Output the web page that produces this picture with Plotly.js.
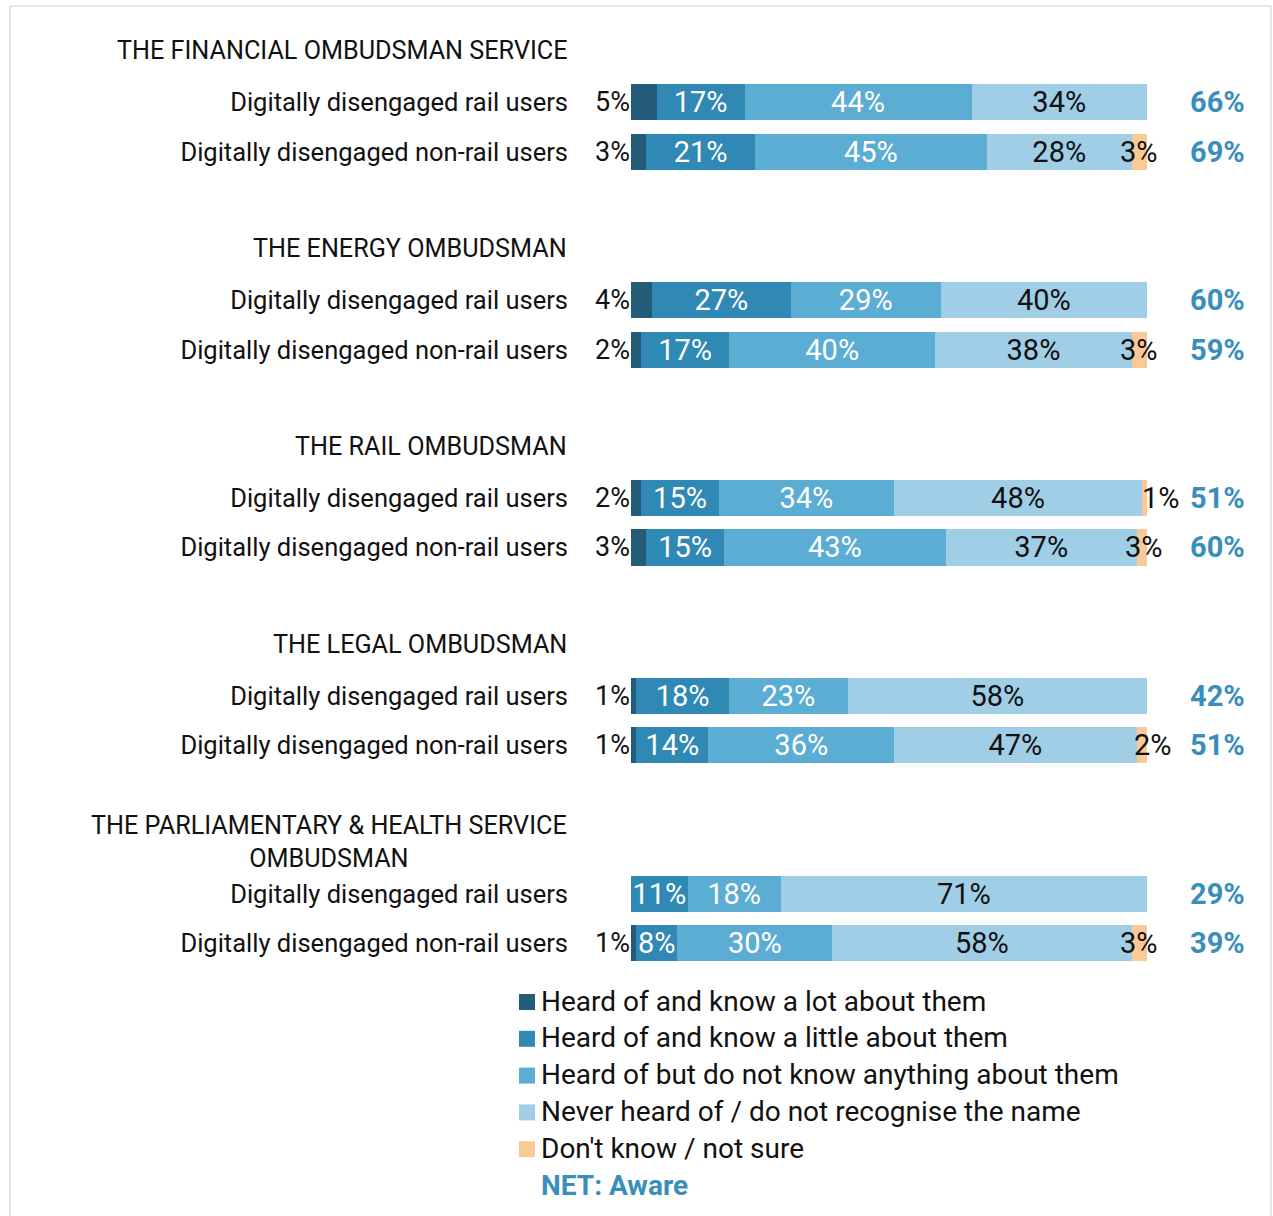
<!DOCTYPE html>
<html><head><meta charset="utf-8">
<script src="https://cdn.plot.ly/plotly-3.0.1.min.js"></script>
<style>html,body{margin:0;padding:0;background:#fff}#chart{width:1273px;height:1216px}</style>
</head><body><div id="chart"></div>
<script>
const groups = ['THE FINANCIAL OMBUDSMAN SERVICE','THE ENERGY OMBUDSMAN','THE RAIL OMBUDSMAN','THE LEGAL OMBUDSMAN','THE PARLIAMENTARY &amp; HEALTH SERVICE<br>OMBUDSMAN'];
const rowLabels = ['Digitally disengaged rail users','Digitally disengaged non-rail users'];
const seriesNames = ['Heard of and know a lot about them','Heard of and know a little about them','Heard of but do not know anything about them','Never heard of / do not recognise the name',"Don't know / not sure"];
const knowALot    = [5, 3, 4, 2, 2, 3, 1, 1, 0, 1];
const knowALittle = [17,21,27,17,15,15,18,14,11, 8];
const heardNothing= [44,45,29,40,34,43,23,36,18,30];
const neverHeard  = [34,28,40,38,48,37,58,47,71,58];
const dontKnow    = [0, 3, 0, 3, 1, 3, 0, 2, 0, 3];
const netAware    = [66,69,60,59,51,60,42,51,29,39];
const netLabel = 'NET: Aware';

const colors = ['#235b78','#2f89b4','#5badd4','#a0cee6','#f9ca98'];
const netColor = '#3a8ebb';
const FONT = 'Roboto, sans-serif';
const TXT = '#111';

// category layout: header, two rows, spacer per group
const cats = [], rowIds = [], rowText = [], headerIds = [];
groups.forEach((g, gi) => {
  const h = 'h' + gi; cats.push(h); headerIds.push(h);
  rowLabels.forEach((r, ri) => { const id = 'g' + gi + 'r' + ri; cats.push(id); rowIds.push(id); rowText.push(r); });
  if (gi < groups.length - 1) cats.push('s' + gi);
});

const series = [knowALot, knowALittle, heardNothing, neverHeard, dontKnow];
const textColors = ['#fff','#fff','#fff',TXT,TXT];
const traces = series.map((vals, si) => {
  const showInside = si >= 1 && si <= 3;
  return {
    type: 'bar', orientation: 'h', name: seriesNames[si], showlegend: false,
    y: rowIds, x: vals,
    marker: {color: colors[si], line: {width: 0}},
    text: showInside ? vals.map(v => v > 0 ? v + '%' : '') : vals.map(() => ''),
    textposition: 'inside', insidetextanchor: 'middle', textangle: 0,
    constraintext: 'none', cliponaxis: false,
    textfont: {family: FONT, size: 29, color: textColors[si]},
    hoverinfo: 'skip'
  };
});

const PT = 28, PB = 968;
const toPaperX = px => (px - 631) / 516;
const toPaperY = py => (PB - py) / (PB - PT);

const ann = [];
headerIds.forEach((h, i) => ann.push({
  xref: 'paper', yref: 'y', x: toPaperX(569), y: h, xanchor: 'right', yanchor: 'middle', yshift: 2,
  text: groups[i], showarrow: false, align: 'center',
  font: {family: FONT, size: 25.2, color: TXT}
}));
rowIds.forEach((id, i) => {
  if (knowALot[i] > 0) ann.push({
    xref: 'x', yref: 'y', x: 0, y: id, xanchor: 'right', xshift: 1,
    text: knowALot[i] + '%', showarrow: false,
    font: {family: FONT, size: 27, color: TXT}
  });
  if (dontKnow[i] > 0) {
    const before = knowALot[i] + knowALittle[i] + heardNothing[i] + neverHeard[i];
    const small = dontKnow[i] < 3;
    ann.push({
      xref: 'x', yref: 'y', x: small ? before : before + dontKnow[i] / 2, y: id,
      xanchor: small ? 'left' : 'center', xshift: small ? -2 - 3 * (dontKnow[i] - 1) : 0,
      text: dontKnow[i] + '%', showarrow: false,
      font: {family: FONT, size: 29, color: TXT}
    });
  }
  ann.push({
    xref: 'paper', yref: 'y', x: toPaperX(1247), y: id, xanchor: 'right',
    text: '<b>' + netAware[i] + '%</b>', showarrow: false,
    font: {family: FONT, size: 29, color: netColor}
  });
});

// legend (swatches + labels)
const shapes = [];
const legTop = 1002, legStep = 36.8;
seriesNames.forEach((n, i) => {
  const cy = legTop + i * legStep;
  shapes.push({type: 'rect', xref: 'paper', yref: 'paper',
    x0: toPaperX(519), x1: toPaperX(535), y0: toPaperY(cy + 8), y1: toPaperY(cy - 8),
    line: {width: 0}, fillcolor: colors[i]});
  ann.push({xref: 'paper', yref: 'paper', x: toPaperX(539), y: toPaperY(cy - 1), xanchor: 'left', yanchor: 'middle',
    text: n, showarrow: false, font: {family: FONT, size: 28, color: TXT}});
});
ann.push({
  xref: 'paper', yref: 'paper', x: toPaperX(539), y: toPaperY(legTop + 5 * legStep - 1), xanchor: 'left', yanchor: 'middle',
  text: '<b>' + netLabel + '</b>', showarrow: false,
  font: {family: FONT, size: 28, color: netColor}
});
shapes.push({type: 'rect', xref: 'paper', yref: 'paper', x0: toPaperX(10), x1: toPaperX(1271), y0: toPaperY(6), y1: toPaperY(1230),
  line: {color: '#cfcfcf', width: 1}, fillcolor: 'rgba(0,0,0,0)', layer: 'below'});

const layout = {
  width: 1273, height: 1216,
  margin: {l: 631, r: 126, t: PT, b: 1216 - PB, pad: 0},
  paper_bgcolor: '#fff', plot_bgcolor: '#fff',
  barmode: 'stack', bargap: 0.27,
  font: {family: FONT, color: TXT},
  showlegend: false,
  xaxis: {range: [0, 100], showgrid: false, zeroline: false, showticklabels: false, showline: false, fixedrange: true},
  yaxis: {type: 'category', categoryorder: 'array', categoryarray: cats, range: [cats.length - 0.5, -0.5],
          tickmode: 'array', tickvals: rowIds, ticktext: rowText, ticks: '', ticklabelstandoff: 62,
          showgrid: false, zeroline: false, showline: false, fixedrange: true,
          tickfont: {family: FONT, size: 25.5, color: TXT}},
  annotations: ann,
  shapes: shapes
};
Plotly.newPlot('chart', traces, layout, {displayModeBar: false, responsive: false});
</script></body></html>
